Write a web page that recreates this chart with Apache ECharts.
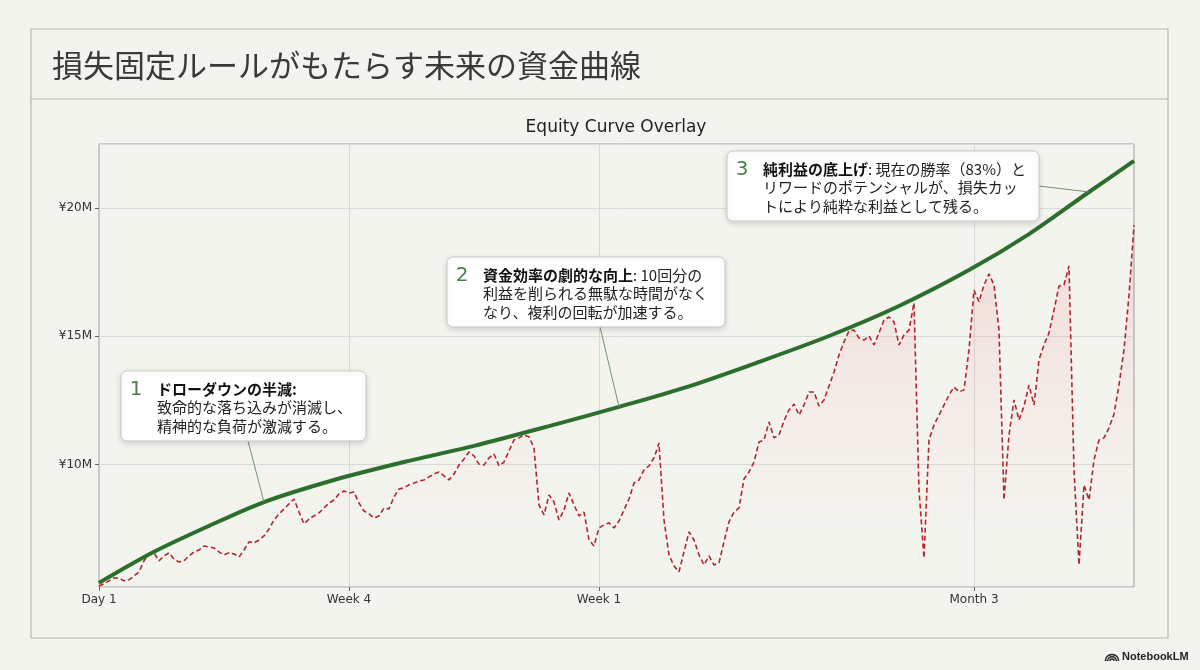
<!DOCTYPE html>
<html>
<head>
<meta charset="utf-8">
<script src="https://cdn.jsdelivr.net/npm/echarts@6/dist/echarts.min.js"></script>
<style>
html,body{margin:0;padding:0;background:#f4f4ef;}
#chart{width:1200px;height:670px;}
</style>
</head>
<body>
<div id="chart"></div>
<script>
// ---- data (values in millions of yen) ----
const tickIndex = [0, 50, 100, 175];
const tickLabels = ['Day 1', 'Week 4', 'Week 1', 'Month 3'];

const equityActual = [
  5.27, 5.35, 5.47, 5.58, 5.58, 5.47, 5.51, 5.66, 5.82, 6.25,
  6.48, 6.56, 6.25, 6.44, 6.56, 6.32, 6.21, 6.25, 6.44, 6.60,
  6.67, 6.83, 6.79, 6.75, 6.60, 6.48, 6.56, 6.52, 6.40, 6.67,
  6.99, 6.95, 7.06, 7.22, 7.49, 7.84, 8.08, 8.27, 8.47, 8.66,
  8.15, 7.69, 7.88, 8.00, 8.12, 8.31, 8.50, 8.62, 8.86, 8.97,
  8.89, 8.93, 8.50, 8.19, 8.08, 7.92, 8.00, 8.31, 8.27, 8.74,
  9.05, 9.09, 9.21, 9.28, 9.36, 9.40, 9.52, 9.63, 9.71, 9.56,
  9.40, 9.63, 9.98, 10.22, 10.49, 10.34, 10.02, 9.98, 10.26, 10.41,
  9.95, 10.10, 10.53, 10.96, 11.04, 11.15, 11.08, 10.65, 8.43, 8.04,
  8.82, 8.54, 7.84, 8.23, 8.89, 8.43, 8.00, 8.15, 7.06, 6.83,
  7.53, 7.65, 7.73, 7.53, 7.80, 8.23, 8.66, 9.28, 9.40, 9.79,
  9.95, 10.26, 10.84, 7.84, 6.48, 6.05, 5.82, 6.60, 7.38, 7.06,
  6.48, 6.09, 6.44, 6.09, 6.17, 6.99, 7.77, 8.15, 8.31, 9.44,
  9.71, 10.10, 10.88, 10.96, 11.66, 11.04, 11.15, 11.70, 12.13, 12.36,
  11.93, 12.32, 12.83, 12.83, 12.28, 12.52, 13.06, 13.61, 14.27, 14.78,
  15.21, 15.24, 14.93, 14.85, 15.01, 14.66, 15.13, 15.63, 15.75, 15.56,
  14.66, 15.05, 15.24, 16.30, 9.01, 6.36, 10.96, 11.54, 11.93, 12.32,
  12.71, 13.02, 12.83, 12.91, 14.47, 16.80, 16.34, 17.00, 17.43, 17.00,
  15.24, 8.62, 11.15, 12.52, 11.74, 12.28, 13.10, 12.32, 14.08, 14.66,
  15.13, 16.02, 16.96, 17.00, 17.74, 9.79, 6.09, 9.21, 8.62, 10.18,
  10.96, 11.04, 11.43, 11.97, 13.10, 14.47, 16.61, 19.33
];

// fixed-loss equity curve: [day index, value]
const equityFixed = [
  [0, 5.39], [11, 6.60], [22, 7.61], [33, 8.54], [47, 9.40], [61, 10.10],
  [75, 10.73], [90, 11.50], [104, 12.25], [118, 13.05], [132, 14.00],
  [146, 15.01], [160, 16.18], [174, 17.58], [186, 18.98], [198, 20.62], [207, 21.83]
];

const noteNumbers = ['1', '2', '3'];
const noteHeads = ['ドローダウンの半減:', '資金効率の劇的な向上', '純利益の底上げ'];
const noteFirstRest = ['', ': 10回分の', ': 現在の勝率（83%）と'];
const noteLines = [
  ['致命的な落ち込みが消滅し、', '精神的な負荷が激減する。'],
  ['利益を削られる無駄な時間がなく', 'なり、複利の回転が加速する。'],
  ['リワードのポテンシャルが、損失カッ', 'トにより純粋な利益として残る。']
];
const noteAnchors = [33, 104, 198];

// ---- layout ----
const boxes = [
  {x: 121, y: 371, w: 245, h: 70, lx: 248, ly: 441},
  {x: 447, y: 257, w: 278, h: 70, lx: 600, ly: 327},
  {x: 727, y: 151, w: 312, h: 70, lx: 1039, ly: 186}
];
const cats = equityActual.map((_, i) => i);
const isTick = (idx) => tickIndex.indexOf(idx) >= 0;
const isInnerTick = (idx) => idx > 0 && tickIndex.indexOf(idx) >= 0;
const jp = '"Noto Sans CJK JP", "Noto Sans", sans-serif';
const lat = '"DejaVu Sans", sans-serif';

const chart = echarts.init(document.getElementById('chart'));

const option = {
  backgroundColor: '#f4f4ef',
  animation: false,
  grid: {left: 99, right: 66, top: 144, bottom: 83, show: true, borderColor: '#9c9c98', borderWidth: 1, backgroundColor: 'transparent'},
  xAxis: {
    type: 'category',
    data: cats,
    boundaryGap: false,
    axisLine: {show: false},
    axisTick: {show: true, interval: (i) => isTick(i), length: 4, lineStyle: {color: '#666'}},
    axisLabel: {
      interval: (i) => isTick(i),
      formatter: (v, i) => tickLabels[tickIndex.indexOf(i)] || '',
      color: '#333', fontSize: 12, fontFamily: lat, margin: 7
    },
    splitLine: {show: true, interval: (i) => isInnerTick(i), lineStyle: {color: '#d9d9d5', width: 1}}
  },
  yAxis: {
    type: 'value',
    min: 5.23, max: 22.49, splitNumber: 4,
    axisLine: {show: false},
    axisTick: {show: true, length: 4, lineStyle: {color: '#666'}},
    axisLabel: {
      showMinLabel: false, showMaxLabel: false,
      formatter: (v) => '¥' + Math.round(v) + 'M',
      color: '#333', fontSize: 12, fontFamily: lat, margin: 7
    },
    splitLine: {show: true, lineStyle: {color: '#d9d9d5', width: 1}}
  },
  series: [
    {
      name: 'actual',
      type: 'line',
      data: equityActual,
      symbol: 'none',
      z: 2,
      lineStyle: {color: '#b3262e', width: 1.6, type: [5, 3]},
      areaStyle: {
        color: new echarts.graphic.LinearGradient(0, 0, 0, 1, [
          {offset: 0, color: 'rgba(228,90,90,0.24)'},
          {offset: 0.45, color: 'rgba(228,90,90,0.09)'},
          {offset: 0.85, color: 'rgba(228,90,90,0.0)'}
        ])
      }
    },
    {
      name: 'fixed',
      type: 'line',
      data: equityFixed,
      symbol: 'none',
      smooth: 0.3,
      z: 3,
      lineStyle: {color: '#2c6e2c', width: 4}
    }
  ]
};
chart.setOption(option);

// ---- annotations & frame ----
const gfx = [
  {type: 'rect', z: -10, shape: {x: 31, y: 29, width: 1137, height: 609}, style: {fill: 'none', stroke: '#b8b8b2', lineWidth: 1.2}},
  {type: 'line', z: -10, shape: {x1: 31, y1: 99, x2: 1168, y2: 99}, style: {stroke: '#b8b8b2', lineWidth: 1.2}},
  {type: 'text', x: 52, y: 65, z: 10, style: {text: '損失固定ルールがもたらす未来の資金曲線', font: '31px ' + jp, fill: '#3a3a3a', verticalAlign: 'middle', align: 'left'}},
  {type: 'text', x: 616, y: 128, z: 10, style: {text: 'Equity Curve Overlay', font: '17px ' + lat, fill: '#222', verticalAlign: 'middle', align: 'center'}},
  {type: 'arc', z: 10, shape: {cx: 1112, cy: 661, r: 2, startAngle: Math.PI, endAngle: 2 * Math.PI}, style: {stroke: '#222', lineWidth: 1.5, fill: 'none'}},
  {type: 'arc', z: 10, shape: {cx: 1112, cy: 661, r: 4.3, startAngle: Math.PI, endAngle: 2 * Math.PI}, style: {stroke: '#222', lineWidth: 1.5, fill: 'none'}},
  {type: 'arc', z: 10, shape: {cx: 1112, cy: 661, r: 6.6, startAngle: Math.PI, endAngle: 2 * Math.PI}, style: {stroke: '#222', lineWidth: 1.5, fill: 'none'}},
  {type: 'text', x: 1122, y: 657, z: 10, style: {text: 'NotebookLM', font: 'bold 11px "Liberation Sans", Arial, sans-serif', fill: '#222', verticalAlign: 'middle', align: 'left'}}
];

boxes.forEach((b, k) => {
  const idx = noteAnchors[k];
  const pt = equityFixed.find(p => p[0] === idx);
  const px = chart.convertToPixel({xAxisIndex: 0, yAxisIndex: 0}, [idx, pt[1]]);
  gfx.push({type: 'line', z: 20, shape: {x1: b.lx, y1: b.ly, x2: px[0], y2: px[1]}, style: {stroke: '#6f946f', lineWidth: 1}});
  gfx.push({type: 'rect', z: 30, shape: {x: b.x, y: b.y, width: b.w, height: b.h, r: 6},
    style: {fill: '#ffffff', stroke: '#c9c9c5', lineWidth: 1, shadowBlur: 6, shadowColor: 'rgba(0,0,0,0.14)', shadowOffsetY: 2}});
  gfx.push({type: 'text', x: b.x + 15, y: b.y + 19, z: 31,
    style: {text: noteNumbers[k], font: '20px ' + lat, fill: '#4b7f4b', verticalAlign: 'middle', align: 'center'}});
  const txt = '{b|' + noteHeads[k] + '}{n|' + noteFirstRest[k] + '}\n{n|' + noteLines[k][0] + '}\n{n|' + noteLines[k][1] + '}';
  gfx.push({type: 'text', x: b.x + 36, y: b.y + 9, z: 31,
    style: {
      text: txt,
      fill: '#222',
      font: '15px ' + jp,
      lineHeight: 18.5,
      rich: {
        b: {fontFamily: jp, fontSize: 15, fontWeight: 'bold', fill: '#111', lineHeight: 18.5},
        n: {fontFamily: jp, fontSize: 15, fill: '#222', lineHeight: 18.5}
      }
    }});
});
chart.setOption({graphic: {elements: gfx}});
</script>
</body>
</html>
